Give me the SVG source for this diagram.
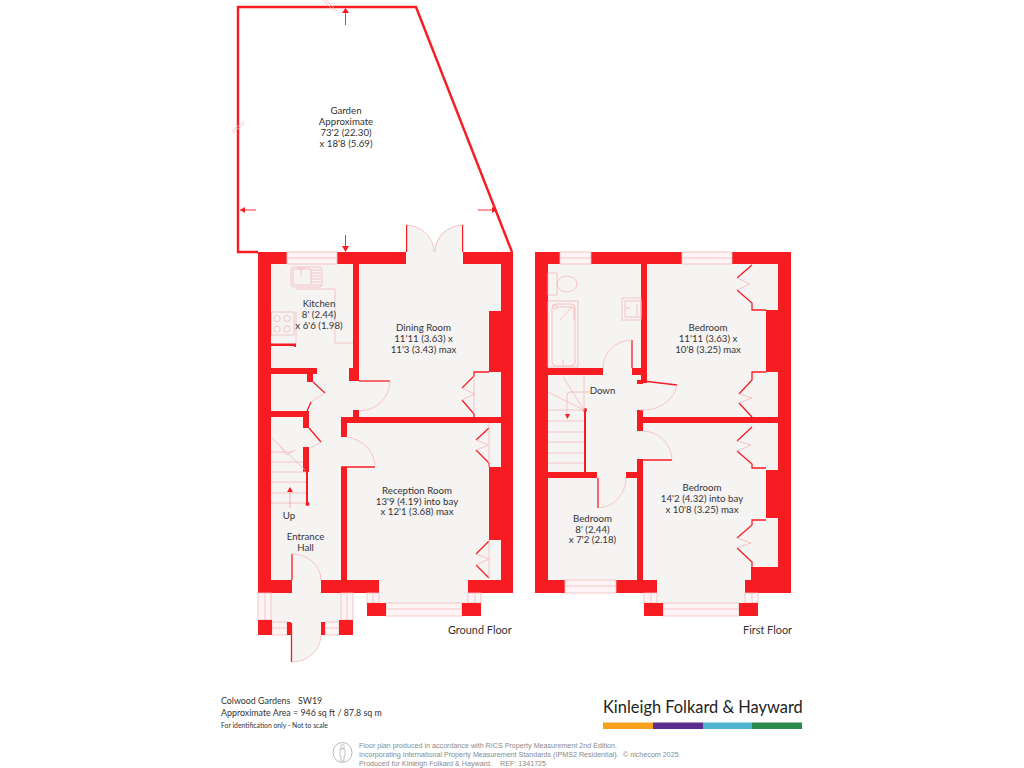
<svg xmlns="http://www.w3.org/2000/svg" width="1024" height="768" viewBox="0 0 1024 768">
<style>
.w{fill:#f71c22}
.f{fill:#f6f3f3}
.l{fill:none;stroke:#f6b8b8;stroke-width:.8}
.wf{fill:#fdf5f5;stroke:#f6b8b8;stroke-width:.8}
.r{fill:none;stroke:#f71c22;stroke-width:1.3}
.h{fill:#f71c22;stroke:none}
text{font-family:Lato,"Open Sans",sans-serif;fill:#333;font-size:9.700px;text-anchor:middle}
.ft{font-size:10.900px;text-anchor:start}
.s{text-anchor:start;font-size:8.850px}
.g{font-family:"Liberation Sans",sans-serif;font-size:7.150px;fill:#8a8a8a;text-anchor:start}
</style>
<rect width="1024" height="768" fill="#fff"/>

<g id="garden">
<path d="M258 252H238V7H416L512 252" fill="none" stroke="#f71c22" stroke-width="2.400"/>
<path d="M323 0L335 12M325 -1L337 11M232 131L244 121M233 133L245 123" class="l"/>
<path d="M345.500 25V13M240 210H256M478 210H495M345.500 235V246" fill="none" stroke="#f71c22" stroke-width=".9"/>
<path class="h" d="M345.500 8L349 13H342ZM240 210L245 207V213ZM497 210L492 207V213ZM345.500 252L342 246H349Z"/>
<text x="346" y="114">Garden</text>
<text x="346" y="125">Approximate</text>
<text x="346" y="135.500">73'2 (22.30)</text>
<text x="346" y="146.500">x 18'8 (5.69)</text>
</g>

<g id="ground-floor">
<path class="f" d="M258 252H513V593H468V603H481V616H367V603H379V593H353V635H339V622H325V635H321A29 27 0 0 1 292 662V635H258Z"/>
<path class="f" d="M406 252V225A28 27 0 0 1 434 250A28 27 0 0 1 463 225V252Z"/>
<path class="l" d="M406 225A29 27 0 0 1 434 252M463 225A29 27 0 0 0 435 252"/>
<path class="w" d="M406 225h1.200v27h-1.200ZM462 225h1.200v27h-1.200Z"/>
<!-- walls -->
<path class="w" d="M258 252H287V264H271V580H292V593H258Z"/>
<path class="w" d="M337 252H406V264H359V381H349V368H353V264H337Z"/>
<path class="w" d="M463 252H513V593H468V580H501V264H463Z"/>
<path class="w" d="M489 311H501V372H489ZM489 467H501V540H489Z"/>
<path class="w" d="M321 580H341V467H347V580H379V593H321Z"/>
<path class="w" d="M341 417H501V423H347V437H341Z"/>
<path class="w" d="M353 410H359V417H353Z"/>
<path class="w" d="M271 368H317V374H313V382H307V374H271Z"/>
<path class="w" d="M271 343.500H296V347H294V346H271Z"/>
<path class="w" d="M271 411H309V428H303V417H271Z"/>
<path class="w" d="M303 447H309V472H308V503H306V472H303Z"/>
<circle class="w" cx="307.500" cy="504" r="2"/>
<!-- cupboards -->
<path class="r" d="M489 372H474V376L462 388M462 400L474 414V417"/>
<path class="l" d="M462 388L475 394L462 400M474 376V414"/>
<path class="r" d="M489 428L476 440M476 450L489 463V467"/>
<path class="l" d="M476 440L489 445L476 450M489 423V467"/>
<path class="r" d="M489 541L476 554M476 565L489 578"/>
<path class="l" d="M476 554L489 559L476 565M489 541V578"/>
<path class="r" d="M313 382L325 393M311 402L307 411"/>
<path class="l" d="M325 393L311 402"/>
<path class="r" d="M309 428L321 442"/>
<path class="l" d="M321 442L312 447"/>
<!-- doors -->
<path class="r" d="M359 381H390"/>
<path class="l" d="M390 381A31 30 0 0 1 359 411"/>
<path class="r" d="M341 467H375"/>
<path class="l" d="M375 467A34 30 0 0 0 347 437"/>
<path class="r" d="M292 554V580"/>
<path class="l" d="M292 554A29 26 0 0 1 321 580"/>
<path class="r" d="M291.500 623V662"/>
<path class="l" d="M292 662A29 27 0 0 0 321 635"/>
<!-- windows -->
<g class="wf">
<rect x="287" y="252" width="50" height="12"/>
<path d="M287 258H337"/>
<rect x="258" y="593" width="13" height="27"/><path d="M265 593V620"/>
<rect x="341" y="593" width="12" height="27"/><path d="M347 593V620"/>
<rect x="272" y="622" width="15" height="13"/><path d="M272 628H287"/>
<rect x="325" y="622" width="14" height="13"/><path d="M325 628H339"/>
<rect x="367" y="593" width="12" height="10"/><path d="M373 593V603"/>
<rect x="468" y="593" width="13" height="10"/><path d="M475 593V603"/>
<rect x="386" y="603" width="76" height="13"/><path d="M386 609H462"/>
</g>
<path class="w" d="M258 620H272V635H258ZM339 620H353V635H339ZM287 622H291V635H287ZM321 622H325V635H321ZM367 603H386V616H367ZM462 603H481V616H462Z"/>
<!-- kitchen -->
<path class="l" d="M296 312V343M296 289H335V343H353"/>
<rect class="l" x="291" y="267" width="31" height="20" rx="3"/>
<rect class="l" x="293" y="269" width="18" height="16" rx="2"/>
<path class="l" d="M311 270H321M311 273H321M311 276H321M311 279H321M311 282H321M311 285H321M301 269V277M297 268H305"/>
<rect class="l" x="271.500" y="312" width="22.500" height="23"/>
<circle class="l" cx="277" cy="318.500" r="3.200"/><circle class="l" cx="287" cy="318.500" r="3.200"/><circle class="l" cx="277" cy="329" r="3.200"/><circle class="l" cx="287" cy="329" r="3.200"/>
<!-- stairs -->
<path class="l" d="M271 452H292M271 462H303M271 472H306M271 482H306M271 493H306M271 503H306M272 438L305 470M280 446L286 455L295 450"/>
<path d="M290 508V492" fill="none" stroke="#f6a0a0" stroke-width=".8"/>
<path class="h" d="M290 487L293 492H287Z"/>
<text x="319" y="307">Kitchen</text>
<text x="319" y="318">8' (2.44)</text>
<text x="319" y="328.500">x 6'6 (1.98)</text>
<text x="423.500" y="331">Dining Room</text>
<text x="423.500" y="342">11'11 (3.63) x</text>
<text x="423.500" y="353">11'3 (3.43) max</text>
<text x="417" y="493.500">Reception Room</text>
<text x="417" y="504.500">13'9 (4.19) into bay</text>
<text x="417" y="515">x 12'1 (3.68) max</text>
<text x="289" y="519" font-size="9">Up</text>
<text x="305.500" y="540">Entrance</text>
<text x="305.500" y="550.500">Hall</text>
<text class="ft" x="448" y="634">Ground Floor</text>
</g>

<g id="first-floor">
<path class="f" d="M535 252H791V593H745V603H758V616H644V603H657V593H535Z"/>
<path class="w" d="M535 252H560V264H548V580H565V593H535Z"/>
<path class="w" d="M591 252H682V264H647V383H643V384H637V380H641V264H591Z"/>
<path class="w" d="M732 252H791V593H745V580H751V567H778V264H732Z"/>
<path class="w" d="M766 310H778V372H766ZM766 470H778V518H766Z"/>
<path class="w" d="M548 368H603V375H548ZM632 368H641V375H632Z"/>
<path class="w" d="M637 410H643V417H778V423H643V431H637Z"/>
<path class="w" d="M548 472H597V478H548ZM626 472H637V459H643V580H657V593H616V580H637V478H626Z"/>
<path class="w" d="M584 410H586V472H584Z"/>
<circle class="w" cx="585" cy="410" r="2"/>
<!-- cupboards -->
<path class="r" d="M752 265L737 278M737 290L752 303V310H766"/>
<path class="l" d="M737 278L750 284L737 290"/>
<path class="r" d="M766 372H752V380L739 394M739 403L752 417"/>
<path class="l" d="M739 394L752 398L739 403"/>
<path class="r" d="M752 427L737 441M737 451L752 464V468H766"/>
<path class="l" d="M737 441L751 445L737 451"/>
<path class="r" d="M766 520H752V525L737 538M737 548L752 562V567"/>
<path class="l" d="M737 538L751 543L737 548"/>
<!-- doors -->
<path class="r" d="M632 368V340"/>
<path class="l" d="M632 340A29 28 0 0 0 603 368"/>
<path class="r" d="M643 381L677 385"/>
<path class="l" d="M677 385A34 30 0 0 1 640 410"/>
<path class="r" d="M637 460H672"/>
<path class="l" d="M672 460A30 30 0 0 0 643 431"/>
<path class="r" d="M598 478V508"/>
<path class="l" d="M598 508A29 30 0 0 0 626 478"/>
<!-- windows -->
<g class="wf">
<rect x="560" y="252" width="31" height="12"/><path d="M560 258H591"/>
<rect x="682" y="252" width="50" height="12"/><path d="M682 258H732"/>
<rect x="565" y="580" width="51" height="13"/><path d="M565 586H616"/>
<rect x="644" y="593" width="13" height="10"/><path d="M651 593V603"/>
<rect x="745" y="593" width="13" height="10"/><path d="M752 593V603"/>
<rect x="663" y="603" width="76" height="13"/><path d="M663 609H739"/>
</g>
<path class="w" d="M644 603H663V616H644ZM739 603H758V616H739Z"/>
<!-- bathroom -->
<rect class="l" x="548" y="273" width="9" height="22"/>
<ellipse class="l" cx="567" cy="284" rx="10" ry="8"/>
<rect class="l" x="548" y="301" width="30" height="66"/>
<rect class="l" x="552" y="304" width="23" height="62" rx="4"/>
<circle class="l" cx="555" cy="307" r="2"/>
<path class="l" d="M557 307H574M572 307L560 320M574 307V320M563 360V366"/>
<rect class="l" x="622" y="298" width="19" height="22"/>
<rect class="l" x="625" y="301" width="16" height="16"/>
<path class="l" d="M626 308H630M637 304V316"/>
<!-- stairs -->
<path class="l" d="M548 410H584M548 421H584M548 432H584M548 442H584M548 453H584M548 463H584M584 375V410M563 377L584 410M548 392L584 410M590 392H570Q567 392 567 395V414"/>
<path class="h" d="M567.500 419L565 414H570Z"/>
<text x="602.500" y="394" font-size="9">Down</text>
<text x="708" y="330.500">Bedroom</text>
<text x="708" y="341.500">11'11 (3.63) x</text>
<text x="708" y="352.500">10'8 (3.25) max</text>
<text x="702" y="490.500">Bedroom</text>
<text x="702" y="501.500">14'2 (4.32) into bay</text>
<text x="702" y="512.500">x 10'8 (3.25) max</text>
<text x="592.500" y="521.500">Bedroom</text>
<text x="592.500" y="532.500">8' (2.44)</text>
<text x="592.500" y="543">x 7'2 (2.18)</text>
<text class="ft" x="743" y="634">First Floor</text>
</g>

<g id="footer">
<text class="s" x="221" y="704">Colwood Gardens<tspan x="298">SW19</tspan></text>
<text class="s" x="221" y="716">Approximate Area = 946 sq ft / 87.8 sq m</text>
<text x="221" y="727.500" style="font-size:6.800px;text-anchor:start">For identification only - Not to scale</text>
<text x="603" y="713" style="font-size:16.400px;text-anchor:start;fill:#222">Kinleigh Folkard &amp; Hayward</text>
<rect x="603" y="722.500" width="50" height="6.500" fill="#f7a01b"/>
<rect x="653" y="722.500" width="50" height="6.500" fill="#5b2d8c"/>
<rect x="703" y="722.500" width="49" height="6.500" fill="#4fb3cf"/>
<rect x="752" y="722.500" width="50" height="6.500" fill="#2a8a4a"/>
<ellipse cx="342.500" cy="752.500" rx="9.500" ry="10" fill="none" stroke="#9a9a9a" stroke-width=".7"/>
<path d="M340 749H345V756H344V761H341V756H340ZM341 746.500a1.600 1.600 0 1 0 3 0a1.600 1.600 0 1 0 -3 0" fill="none" stroke="#9a9a9a" stroke-width=".6"/>
<text class="g" x="359" y="748">Floor plan produced in accordance with RICS Property Measurement 2nd Edition.</text>
<text class="g" x="359" y="757">Incorporating International Property Measurement Standards (IPMS2 Residential).<tspan x="623">© nichecom 2025.</tspan></text>
<text class="g" x="359" y="766">Produced for Kinleigh Folkard &amp; Hayward.<tspan x="500">REF: 1341725</tspan></text>
</g>
</svg>
